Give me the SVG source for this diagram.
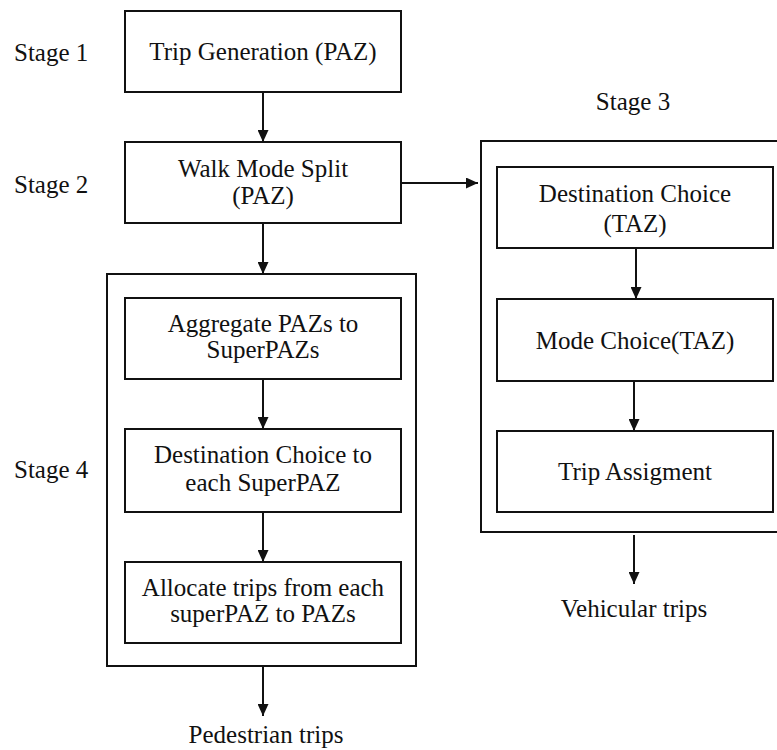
<svg xmlns="http://www.w3.org/2000/svg" width="777" height="750" viewBox="0 0 777 750" font-family="Liberation Serif, DejaVu Serif, serif" font-size="25">
<style>
  .t { fill: #111; }
  .c { text-anchor: middle; }
  .box { fill: #fff; stroke: #111; stroke-width: 2; }
  .frame { fill: none; stroke: #111; stroke-width: 2; }
  .conn line { stroke: #111; stroke-width: 2; marker-end: url(#ah); }
</style>
<defs>
  <marker id="ah" markerUnits="userSpaceOnUse" markerWidth="12" markerHeight="11" refX="12" refY="5.5" orient="auto">
    <path d="M0,0 L12,5.5 L0,11 z" fill="#111"/>
  </marker>
</defs>
<rect width="777" height="750" fill="#fff"/>

<g id="labels" class="t">
  <text x="14" y="61">Stage 1</text>
  <text x="14" y="193">Stage 2</text>
  <text x="633" y="110" class="c">Stage 3</text>
  <text x="14" y="478">Stage 4</text>
  <text x="266" y="743" class="c">Pedestrian trips</text>
  <text x="634" y="617" class="c">Vehicular trips</text>
</g>

<g id="stage4-frame"><rect class="frame" x="107" y="274" width="309" height="392"/></g>
<g id="stage3-frame"><rect class="frame" x="481" y="141" width="300" height="391"/></g>

<g id="trip-generation" class="t">
  <rect class="box" x="125" y="11" width="276" height="81"/>
  <text x="263" y="60" class="c">Trip Generation (PAZ)</text>
</g>
<g id="walk-mode-split" class="t">
  <rect class="box" x="125" y="142" width="276" height="81"/>
  <text x="263" y="177" class="c">Walk Mode Split</text>
  <text x="263" y="204" class="c">(PAZ)</text>
</g>
<g id="aggregate" class="t">
  <rect class="box" x="125" y="298" width="276" height="81"/>
  <text x="263" y="332" class="c">Aggregate PAZs to</text>
  <text x="263" y="358" class="c">SuperPAZs</text>
</g>
<g id="destination-superpaz" class="t">
  <rect class="box" x="125" y="429" width="276" height="83"/>
  <text x="263" y="463" class="c">Destination Choice to</text>
  <text x="263" y="491" class="c">each SuperPAZ</text>
</g>
<g id="allocate" class="t">
  <rect class="box" x="125" y="562" width="276" height="81"/>
  <text x="263" y="596" class="c">Allocate trips from each</text>
  <text x="263" y="622" class="c">superPAZ to PAZs</text>
</g>
<g id="destination-taz" class="t">
  <rect class="box" x="497" y="167" width="276" height="81"/>
  <text x="635" y="202" class="c">Destination Choice</text>
  <text x="635" y="232" class="c">(TAZ)</text>
</g>
<g id="mode-choice" class="t">
  <rect class="box" x="497" y="299" width="276" height="82"/>
  <text x="635" y="349" class="c">Mode Choice(TAZ)</text>
</g>
<g id="trip-assignment" class="t">
  <rect class="box" x="497" y="431" width="276" height="81"/>
  <text x="635" y="480" class="c">Trip Assigment</text>
</g>

<g id="connectors" class="conn">
  <line x1="263" y1="92" x2="263" y2="142"/>
  <line x1="401" y1="183" x2="478" y2="183"/>
  <line x1="263" y1="223" x2="263" y2="274"/>
  <line x1="263" y1="379" x2="263" y2="429"/>
  <line x1="263" y1="512" x2="263" y2="562"/>
  <line x1="263" y1="666" x2="263" y2="716"/>
  <line x1="636" y1="248" x2="636" y2="299"/>
  <line x1="634" y1="381" x2="634" y2="431"/>
  <line x1="634" y1="535" x2="634" y2="584"/>
</g>
</svg>
